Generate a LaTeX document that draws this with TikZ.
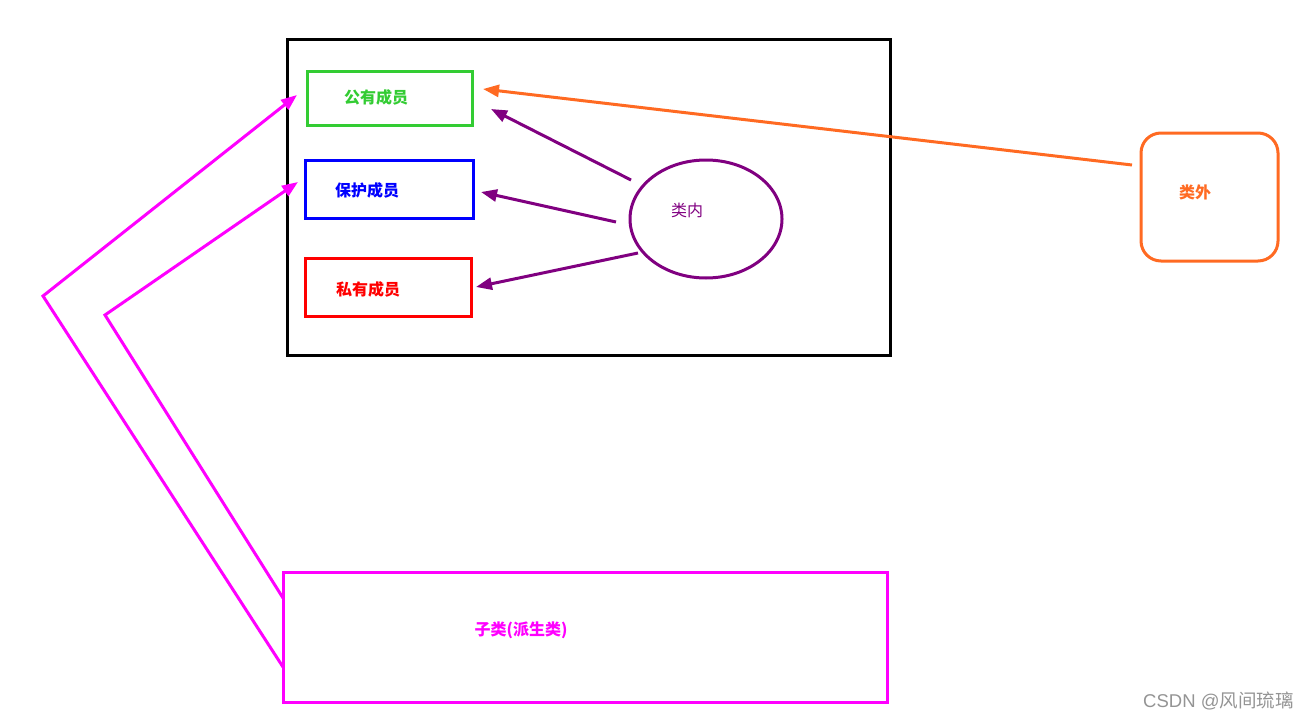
\documentclass[tikz,border=0pt]{standalone}
\usepackage{fontspec}
\setmainfont{Liberation Sans}
\newfontfamily\cjk{Noto Sans CJK SC}
\usetikzlibrary{arrows.meta,shapes.geometric}
\definecolor{cgreen}{HTML}{33CC33}
\definecolor{cblue}{HTML}{0000FF}
\definecolor{cred}{HTML}{FF0000}
\definecolor{cpurple}{HTML}{800080}
\definecolor{corange}{HTML}{FF6A22}
\definecolor{cmag}{HTML}{FF00FF}
\tikzset{
  box/.style={draw, line width=3pt, rectangle, inner sep=0pt},
  lbl/.style={font=\cjk\bfseries\fontsize{16}{18}\selectfont, inner sep=0pt},
  arr/.style={line width=3pt, -{Triangle[length=16pt,width=12pt]}},
}
\begin{document}
\begin{tikzpicture}[x=1pt,y=-1pt]
\useasboundingbox (0,0) rectangle (1316,720);
% outer class box
\node[box, black, minimum width=603pt, minimum height=316pt] (cls) at (588.5,197) {};
% member boxes
\node[box, cgreen, minimum width=165pt, minimum height=54pt] (pub) at (389.5,98) {};
\node[lbl, text=cgreen] (publ) at (376,97) {公有成员};
\node[box, cblue, minimum width=168pt, minimum height=58pt] (pro) at (389,189) {};
\node[lbl, text=cblue] (prol) at (367,190) {保护成员};
\node[box, cred, minimum width=166pt, minimum height=58pt] (pri) at (388,287) {};
\node[lbl, text=cred] (pril) at (368,289) {私有成员};
% inside ellipse
\node[draw=cpurple, line width=3pt, ellipse, minimum width=152pt, minimum height=118pt] (in) at (706,219) {};
\node[lbl, font=\cjk\fontsize{16}{18}\selectfont, text=cpurple] (inl) at (687,210) {类内};
% outside
\node[draw=corange, line width=3pt, rounded corners=20pt, minimum width=137pt, minimum height=128pt] (out) at (1209.5,197) {};
\node[lbl, text=corange] (outl) at (1195,192) {类外};
% subclass
\node[box, cmag, minimum width=604pt, minimum height=130pt] (sub) at (585,637) {};
\node[lbl, text=cmag] (subl) at (521,630) {子类(派生类)};
% arrow endpoints
\coordinate (o1) at (1132,165);
\coordinate (o2) at (483,89);
\coordinate (a1s) at (631,180);
\coordinate (a1e) at (491,109);
\coordinate (a2s) at (616,222);
\coordinate (a2e) at (481,192);
\coordinate (a3s) at (638,253);
\coordinate (a3e) at (476,287);
\coordinate (m1s) at (283,667);
\coordinate (m1k) at (43,296);
\coordinate (m1e) at (297,95);
\coordinate (m2s) at (283,598);
\coordinate (m2k) at (105,315);
\coordinate (m2e) at (298,182);
% connectors
\draw[arr, corange] (o1) -- (o2);
\draw[arr, cpurple] (a1s) -- (a1e);
\draw[arr, cpurple] (a2s) -- (a2e);
\draw[arr, cpurple] (a3s) -- (a3e);
\draw[arr, cmag, line join=miter] (m1s) -- (m1k) -- (m1e);
\draw[arr, cmag, line join=miter] (m2s) -- (m2k) -- (m2e);
% watermark
\node[font=\fontsize{18.5}{20}\selectfont, text=black!42, anchor=west, inner sep=0pt] (wm) at (1143,701) {CSDN @{\cjk 风间琉璃}};
\end{tikzpicture}
\end{document}
